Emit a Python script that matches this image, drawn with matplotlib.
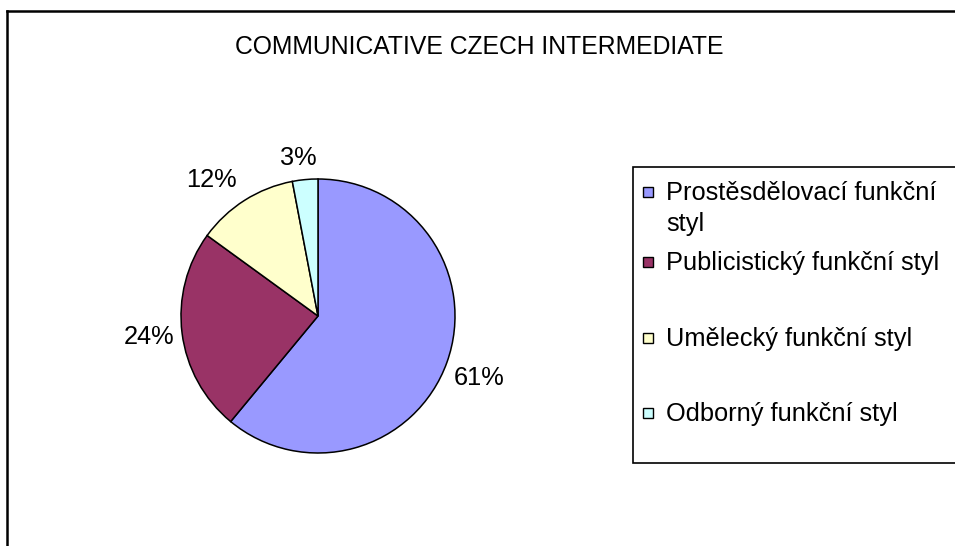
import matplotlib
matplotlib.use("Agg")
import numpy as np
import matplotlib.pyplot as plt
from matplotlib.patches import Rectangle
from matplotlib.lines import Line2D

title = "COMMUNICATIVE CZECH INTERMEDIATE"
categories = ["Prostěsdělovací funkční\nstyl", "Publicistický funkční styl",
              "Umělecký funkční styl", "Odborný funkční styl"]
values = [61, 24, 12, 3]
colors = ["#9999FF", "#993366", "#FFFFCC", "#CCFFFF"]

# label placement styling (radial distance, angular nudge in degrees)
label_dist = [1.254, 1.241, 1.273, 1.183]
label_nudge = [-0.6, -0.8, 5.1, 1.4]

W, H = 955, 546
plt.rcParams['font.family'] = ['Liberation Sans', 'DejaVu Sans']
FS = 18.3
FS_TITLE = 17.8

fig = plt.figure(figsize=(W / 100, H / 100), dpi=100)
fig.patch.set_facecolor("white")

def fx(px):
    return px / W

def fy(py):
    return 1 - py / H

# outer border (cut off at right and bottom)
fig.add_artist(Line2D([fx(7), fx(W + 5)], [fy(11), fy(11)], color="black", lw=1.8,
                      transform=fig.transFigure))
fig.add_artist(Line2D([fx(7), fx(7)], [fy(11), fy(H + 5)], color="black", lw=1.8,
                      transform=fig.transFigure))

# title
fig.text(fx(479), fy(54), title, ha="center", va="baseline", fontsize=FS_TITLE)

# pie
cx, cy, R = 318, 316, 137
ax = fig.add_axes([fx(cx - R), fy(cy + R), 2 * R / W, 2 * R / H])
wedges, texts, autotexts = ax.pie(
    values, colors=colors, startangle=90, counterclock=False, radius=1,
    autopct="%1.0f%%", pctdistance=1.24,
    wedgeprops=dict(edgecolor="black", linewidth=1.1),
    textprops=dict(fontsize=FS, color="black"))
for w, t, d, nd in zip(wedges, autotexts, label_dist, label_nudge):
    mid = np.deg2rad((w.theta1 + w.theta2) / 2 + nd)
    t.set_position((d * np.cos(mid), d * np.sin(mid)))
    t.set_va("center_baseline")
    t.set_clip_on(False)
ax.set_xlim(-1, 1)
ax.set_ylim(-1, 1)
ax.set_aspect("equal")
ax.axis("off")

# legend box
fig.add_artist(Rectangle((fx(633), fy(463)), fx(W + 10) - fx(633), fy(167) - fy(463),
                         transform=fig.transFigure, facecolor="white",
                         edgecolor="black", lw=1.2))
row_centers = [192, 262, 338, 413]
sq = 10.5
for lab, col, yc in zip(categories, colors, row_centers):
    fig.add_artist(Rectangle((fx(648 - sq / 2), fy(yc + sq / 2)), sq / W, sq / H,
                             transform=fig.transFigure, facecolor=col,
                             edgecolor="black", lw=1.0))
    lines = lab.split("\n")
    for i, ln in enumerate(lines):
        fig.text(fx(666), fy(yc + 8 + 31 * i), ln, ha="left", va="baseline",
                 fontsize=FS)

fig.savefig("out.png", dpi=100, facecolor="white")
